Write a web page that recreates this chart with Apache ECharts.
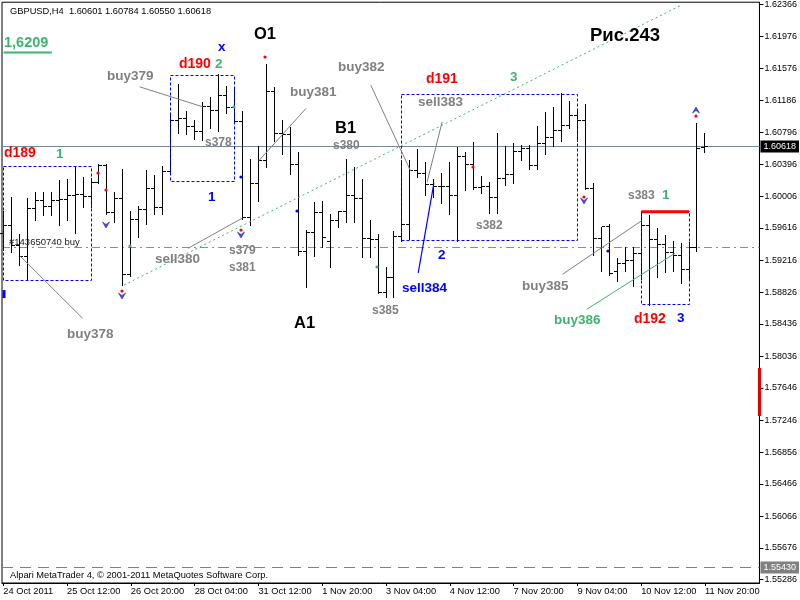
<!DOCTYPE html>
<html><head><meta charset="utf-8">
<script src="https://cdn.jsdelivr.net/npm/echarts@6/dist/echarts.min.js"></script>
<style>html,body{margin:0;padding:0;background:#fff}#c{width:800px;height:600px}</style>
</head><body><div id="c"></div>
<script>
// ---------------- data ----------------
const symbolName = 'GBPUSD,H4';
const opens = [1.5955,1.5965,1.5940,1.5926,1.5985,1.5995,1.5988,1.5995,1.5997,1.6001,
 1.6003,1.6000,1.6018,1.6039,1.5981,1.5998,1.5904,1.5972,1.5984,1.6010,
 1.5987,1.6031,1.6094,1.6096,1.6086,1.6080,1.6111,1.6106,1.6125,1.6110,
 1.6092,1.5974,1.6016,1.6044,1.6129,1.6078,1.6076,1.6040,1.5933,1.5956,
 1.5981,1.5945,1.5971,1.5982,1.6001,1.5998,1.5948,1.5947,1.5882,1.5900,
 1.5951,1.5966,1.6032,1.6028,1.6015,1.6013,1.6012,1.6001,1.6050,1.6040,
 1.6011,1.6013,1.5999,1.6022,1.6027,1.6056,1.6059,1.6038,1.6066,1.6073,
 1.6082,1.6088,1.6100,1.6094,1.6010,1.5948,1.5963,1.5908,1.5918,1.5922,
 1.5930,1.5965,1.5947,1.5941,1.5931,1.5928,1.5911,1.5938,1.60601];
const highs = [1.5983,1.6000,1.5954,1.5998,1.6006,1.6006,1.6006,1.6020,1.6022,1.6037,
 1.6024,1.6023,1.6040,1.6040,1.6006,1.6034,1.5983,1.5988,1.6033,1.6027,
 1.6038,1.6100,1.6139,1.6106,1.6095,1.6116,1.6123,1.6151,1.6136,1.6133,
 1.6106,1.6047,1.6063,1.6163,1.6135,1.6094,1.6086,1.6055,1.5959,1.5993,
 1.5995,1.5979,1.5983,1.6047,1.6036,1.6022,1.5971,1.5954,1.5913,1.5958,
 1.6045,1.6045,1.6059,1.6043,1.6022,1.6029,1.6043,1.6061,1.6055,1.6067,
 1.6025,1.6018,1.6078,1.6062,1.6066,1.6064,1.6064,1.6087,1.6104,1.6111,
 1.6128,1.6118,1.6106,1.6114,1.6017,1.5963,1.5966,1.5924,1.5938,1.5938,
 1.5983,1.5977,1.5961,1.5953,1.5946,1.5943,1.5944,1.6091,1.60784];
const lows = [1.5935,1.5932,1.5916,1.5899,1.5971,1.5977,1.5977,1.5965,1.5971,1.5955,
 1.5987,1.5987,1.6017,1.5979,1.5969,1.5891,1.5903,1.5951,1.5967,1.5979,
 1.5979,1.6030,1.6079,1.6077,1.6071,1.6070,1.6084,1.6081,1.6103,1.6092,
 1.5973,1.5965,1.5995,1.6036,1.6069,1.6053,1.6028,1.5928,1.5889,1.5927,
 1.5938,1.5913,1.5963,1.5969,1.5969,1.5926,1.5926,1.5881,1.5876,1.5876,
 1.5946,1.5948,1.6024,1.6002,1.6000,1.5992,1.5979,1.5945,1.6008,1.6009,
 1.6004,1.5980,1.5980,1.6015,1.6017,1.6045,1.6034,1.6034,1.6053,1.6062,
 1.6068,1.6084,1.6069,1.6010,1.5928,1.5908,1.5904,1.5896,1.5908,1.5890,
 1.5899,1.5867,1.5901,1.5907,1.5909,1.5894,1.5898,1.5933,1.60550];
const closes = [1.5965,1.5940,1.5926,1.5985,1.5995,1.5988,1.5995,1.5997,1.6001,1.6003,
 1.6000,1.6018,1.6038,1.5981,1.5998,1.5904,1.5972,1.5984,1.6010,1.5987,
 1.6031,1.6094,1.6096,1.6086,1.6080,1.6111,1.6106,1.6125,1.6110,1.6092,
 1.5974,1.6016,1.6044,1.6129,1.6078,1.6076,1.6040,1.5933,1.5956,1.5981,
 1.5950,1.5971,1.5982,1.6001,1.5998,1.5948,1.5947,1.5882,1.5900,1.5951,
 1.5966,1.6032,1.6028,1.6015,1.6013,1.6012,1.6001,1.6050,1.6040,1.6011,
 1.6013,1.5999,1.6022,1.6027,1.6056,1.6059,1.6038,1.6066,1.6073,1.6082,
 1.6088,1.6100,1.6094,1.6010,1.5948,1.5963,1.5906,1.5918,1.5922,1.5930,
 1.5965,1.5947,1.5941,1.5931,1.5928,1.5911,1.5938,1.6059,1.60618];

const xTickBars = [0,8,16,24,32,40,48,56,64,72,80,88];
const xTickLabels = ['24 Oct 2011','25 Oct 12:00','26 Oct 20:00','28 Oct 04:00','31 Oct 12:00','1 Nov 20:00',
 '3 Nov 04:00','4 Nov 12:00','7 Nov 20:00','9 Nov 04:00','10 Nov 12:00','11 Nov 20:00'];
const yTickLabels = ['1.62366','1.61976','1.61576','1.61186','1.60796','1.60396','1.60006','1.59616','1.59216',
 '1.58826','1.58436','1.58036','1.57646','1.57246','1.56856','1.56466','1.56066','1.55676','1.55286'];

const bidPrice = 1.60618;
const orderPrice = 1.59380;
const lowLinePrice = 1.55430;
const footerText = 'Alpari MetaTrader 4, \u00a9 2001-2011 MetaQuotes Software Corp.';

// annotations: [text, bar index, price]
const grayLabels = [['buy379',13.0,1.61487],['buy381',36.0,1.61291],['buy382',42.04,1.61598],['sell383',52.04,1.61160],
 ['sell380',19.0,1.59236],['buy378',7.96,1.58305],['buy385',65.0,1.58900]];
const graySmallLabels = [['s378',25.25,1.60663],['s380',41.29,1.60622],['s379',28.29,1.59330],['s381',28.29,1.59125],
 ['s382',59.29,1.59642],['s385',46.29,1.58596],['s383',78.29,1.60007]];
const redLabels = [['d189',0.06,1.60536],['d190',22.0,1.61628],['d191',53.04,1.61447],['d192',79.125,1.58490]];
const greenLabels = [['2',26.5,1.61628],['1',6.625,1.60530],['3',63.59,1.61468],['1',82.66,1.60020],['buy386',69.125,1.58481]];
const blueLabels = [['x',26.9,1.61837],['1',25.625,1.60000],['2',54.5,1.59281],['sell384',50.04,1.58879],['3',84.54,1.58506]];
const bigLabels = [['O1',31.5,1.62009],['B1',41.625,1.60848],['A1',36.5,1.58448]];
const figureLabels = [['Рис.243',73.59,1.61976]];
const levelLabels = [['1,6209',0.125,1.61886]];
const orderLabels = [['#143650740 buy',0.66,1.59445]];

// segments: [bar1, price1, bar2, price2]
const graySegments = [[17.125,1.61352,25.04,1.61106],[37.96,1.61086,32.04,1.60442],[46.09,1.61373,51.09,1.60315],
 [55.04,1.60921,53.16,1.60183],[23.16,1.59364,30.04,1.59740],[9.96,1.58502,2.125,1.59269],[70.16,1.59047,80.04,1.59703]];
const greenSegments = [[73.16,1.58613,84.21,1.59302]];
const blueSegments = [[54.0,1.60163,52.04,1.59063]];
const trendSegments = [[15.125,1.58912,85.0,1.62357]];
const levelUnderlines = [[0.05,1.61775,6.09,1.61775]];
const boxes = [[0,1.60376,11,1.58974],[21,1.61496,29,1.60183],[50,1.61262,72,1.59457],[80,1.59814,86,1.58678]];
const redTopLines = [[80,1.59814,86,1.59814]];

// markers: [bar, price]
const sellArrows = [[13,1.59650],[15,1.58780],[30,1.59527],[73,1.59949]];
const buyArrows = [[87,1.61065]];
const redDots = [[12,1.60287],[13,1.60081],[15,1.58838],[30,1.59589],[33,1.61721],[59,1.60368],[73,1.59999],[87,1.60995]];
const blueDots = [[30,1.60245],[37,1.59823],[76,1.59330]];
const greenDots = [[29,1.61106],[47,1.59129],[16,1.59392]];
const blueTicks = [[0,1.58851,1.58752]];
const axisAlertRanges = [[1.57891,1.57300]];

// ---------------- layout ----------------
const X_MIN = -0.1625, X_MAX = 94.8375;
const Y_MIN = 1.55245, Y_MAX = 1.62394;
const FONT = '"Liberation Sans", Arial, sans-serif';
const crisp = v => Math.round(v - 0.5) + 0.5;

const chart = echarts.init(document.getElementById('c'), null, {renderer: 'canvas'});

const barsData = opens.map((o, i) => [i, o, highs[i], lows[i], closes[i]]);
const last = barsData.length - 1;
const titleText = symbolName + '  ' + [opens[last], highs[last], lows[last], closes[last]].map(v => v.toFixed(5)).join(' ');

function textSeries(rows, font, color, z) {
  return {type: 'custom', coordinateSystem: 'cartesian2d', silent: true, z: z || 6,
    data: rows.map(r => [r[1], r[2]]),
    renderItem(params, api) {
      const p = api.coord([api.value(0), api.value(1)]);
      return {type: 'text', x: Math.round(p[0]), y: Math.round(p[1]),
        style: {text: rows[params.dataIndex][0], fill: color, font: font, align: 'left', verticalAlign: 'middle'}};
    }};
}
function segSeries(rows, style, z) {
  return {type: 'custom', coordinateSystem: 'cartesian2d', silent: true, z: z || 5,
    data: rows.map(r => r.slice()),
    renderItem(params, api) {
      const a = api.coord([api.value(0), api.value(1)]);
      const b = api.coord([api.value(2), api.value(3)]);
      return {type: 'line', shape: {x1: a[0], y1: a[1], x2: b[0], y2: b[1]}, style: Object.assign({fill: null}, style)};
    }};
}
function dotSeries(rows, color, z) {
  return {type: 'custom', coordinateSystem: 'cartesian2d', silent: true, z: z || 7,
    data: rows.map(r => r.slice()),
    renderItem(params, api) {
      const p = api.coord([api.value(0), api.value(1)]);
      return {type: 'circle', shape: {cx: Math.round(p[0]) - 1, cy: Math.round(p[1]), r: 1.6}, style: {fill: color}};
    }};
}
function arrowSeries(rows, dir, z) {
  return {type: 'custom', coordinateSystem: 'cartesian2d', silent: true, z: z || 7,
    data: rows.map(r => r.slice()),
    renderItem(params, api) {
      const p = api.coord([api.value(0), api.value(1)]);
      const cx = Math.round(p[0]) - 1, cy = Math.round(p[1]);
      const s = dir; // 1 = down chevron, -1 = up chevron
      const pts = [[cx - 3.5, cy - 3 * s], [cx, cy - 0.5 * s], [cx + 3.5, cy - 3 * s], [cx, cy + 3 * s]];
      return {type: 'polygon', shape: {points: pts}, style: {fill: '#4a4ae8', stroke: '#2a2aa8', lineWidth: 0.6}};
    }};
}

const hLineStyles = [
  {stroke: '#778899', lineWidth: 1},
  {stroke: '#32cd32', lineWidth: 1, lineDash: [8, 4, 2, 4]},
  {stroke: '#808080', lineWidth: 1, lineDash: [11, 7]}
];
const hLineLabels = [{bg: '#000000'}, null, {bg: '#808080'}];
const hLinePrices = [bidPrice, orderPrice, lowLinePrice];

const option = {
  animation: false,
  backgroundColor: '#ffffff',
  title: [
    {text: titleText, left: 5, top: 2, textStyle: {fontSize: 9.3, fontWeight: 'normal', color: '#000', fontFamily: FONT}},
    {text: footerText, left: 5, top: 566, textStyle: {fontSize: 9.3, fontWeight: 'normal', color: '#000', fontFamily: FONT}}
  ],
  grid: {left: 2, top: 2, right: 38, bottom: 17, show: true, borderColor: '#000', borderWidth: 1, backgroundColor: '#fff'},
  xAxis: {type: 'value', min: X_MIN, max: X_MAX, position: 'bottom',
    axisLine: {show: true, onZero: false, lineStyle: {color: '#000', width: 1}},
    axisTick: {show: true, customValues: xTickBars, length: 3, lineStyle: {color: '#000'}},
    axisLabel: {show: true, customValues: xTickBars, align: 'left', margin: 4, color: '#000', fontSize: 9.3, fontFamily: FONT,
      formatter: v => { const k = xTickBars.indexOf(Math.round(v)); return k >= 0 ? xTickLabels[k] : ''; }},
    splitLine: {show: false}},
  yAxis: {type: 'value', min: Y_MIN, max: Y_MAX, position: 'right', scale: true,
    axisLine: {show: true, onZero: false, lineStyle: {color: '#000', width: 1}},
    axisTick: {show: true, customValues: yTickLabels.map(Number), length: 4, lineStyle: {color: '#000'}},
    axisLabel: {show: true, customValues: yTickLabels.map(Number), margin: 5, color: '#000', fontSize: 9, fontFamily: FONT,
      formatter: v => v.toFixed(5)},
    splitLine: {show: false}},
  series: [
    // horizontal level lines
    {type: 'custom', coordinateSystem: 'cartesian2d', silent: true, z: 1,
      data: hLinePrices.map(p => [0, p]),
      renderItem(params, api) {
        const cs = params.coordSys;
        const y = crisp(api.coord([0, api.value(1)])[1]);
        const children = [{type: 'line', shape: {x1: cs.x, y1: y, x2: cs.x + cs.width, y2: y}, style: hLineStyles[params.dataIndex]}];
        const lab = hLineLabels[params.dataIndex];
        if (lab) {
          children.push({type: 'text', x: cs.x + cs.width + 1, y: y,
            style: {text: api.value(1).toFixed(5), fill: '#fff', backgroundColor: lab.bg, padding: [2, 3, 1, 3],
              font: '9px ' + FONT, align: 'left', verticalAlign: 'middle'}});
        }
        return {type: 'group', children};
      }},
    // OHLC bars
    {type: 'custom', coordinateSystem: 'cartesian2d', silent: true, z: 3,
      data: barsData,
      renderItem(params, api) {
        const i = api.value(0);
        const h = api.coord([i, api.value(2)]), l = api.coord([i, api.value(3)]);
        const o = api.coord([i, api.value(1)]), c = api.coord([i, api.value(4)]);
        const x = crisp(h[0]);
        const st = {stroke: '#000', lineWidth: 1};
        const yo = crisp(o[1]), yc = crisp(c[1]);
        return {type: 'group', children: [
          {type: 'line', shape: {x1: x, y1: Math.round(h[1]), x2: x, y2: Math.round(l[1]) + 1}, style: st},
          {type: 'line', shape: {x1: x - 3.5, y1: yo, x2: x - 0.5, y2: yo}, style: st},
          {type: 'line', shape: {x1: x + 0.5, y1: yc, x2: x + 3.5, y2: yc}, style: st}
        ]};
      }},
    // dashed boxes
    {type: 'custom', coordinateSystem: 'cartesian2d', silent: true, z: 4,
      data: boxes.map(r => r.slice()),
      renderItem(params, api) {
        const a = api.coord([api.value(0), api.value(1)]);
        const b = api.coord([api.value(2), api.value(3)]);
        const x1 = crisp(Math.min(a[0], b[0])), x2 = crisp(Math.max(a[0], b[0]));
        const y1 = crisp(Math.min(a[1], b[1])), y2 = crisp(Math.max(a[1], b[1]));
        return {type: 'rect', shape: {x: x1, y: y1, width: x2 - x1, height: y2 - y1},
          style: {fill: null, stroke: '#0000ff', lineWidth: 1, lineDash: [3, 2]}};
      }},
    segSeries(redTopLines, {stroke: '#ff0000', lineWidth: 3}, 5),
    segSeries(trendSegments, {stroke: '#3cb371', lineWidth: 1, lineDash: [2, 3]}, 5),
    segSeries(graySegments, {stroke: '#808080', lineWidth: 1}, 5),
    segSeries(greenSegments, {stroke: '#3cb371', lineWidth: 1}, 5),
    segSeries(blueSegments, {stroke: '#0000ff', lineWidth: 1.2}, 5),
    segSeries(levelUnderlines, {stroke: '#3cb371', lineWidth: 2}, 5),
    // short blue vertical mark at the left edge
    {type: 'custom', coordinateSystem: 'cartesian2d', silent: true, z: 6,
      data: blueTicks.map(r => r.slice()),
      renderItem(params, api) {
        const a = api.coord([api.value(0), api.value(1)]), b = api.coord([api.value(0), api.value(2)]);
        return {type: 'line', shape: {x1: Math.round(a[0]) + 1, y1: a[1], x2: Math.round(a[0]) + 1, y2: b[1]}, style: {stroke: '#0000ff', lineWidth: 3}};
      }},
    // red mark on price axis
    {type: 'custom', coordinateSystem: 'cartesian2d', silent: true, z: 8,
      data: axisAlertRanges.map(r => [0, r[0], r[1]]),
      renderItem(params, api) {
        const cs = params.coordSys;
        const a = api.coord([0, api.value(1)]), b = api.coord([0, api.value(2)]);
        return {type: 'line', shape: {x1: cs.x + cs.width, y1: a[1], x2: cs.x + cs.width, y2: b[1]}, style: {stroke: '#e00000', lineWidth: 3}};
      }},
    arrowSeries(sellArrows, 1, 7),
    arrowSeries(buyArrows, -1, 7),
    dotSeries(redDots, '#ff0000', 8),
    dotSeries(blueDots, '#0000ff', 8),
    dotSeries(greenDots, '#3cb371', 8),
    textSeries(grayLabels, 'bold 13.5px ' + FONT, '#808080'),
    textSeries(graySmallLabels, 'bold 12px ' + FONT, '#808080'),
    textSeries(redLabels, 'bold 14px ' + FONT, '#ff0000'),
    textSeries(greenLabels, 'bold 13.5px ' + FONT, '#3cb371'),
    textSeries(blueLabels, 'bold 13.5px ' + FONT, '#0000ff'),
    textSeries(bigLabels, 'bold 16.5px ' + FONT, '#000000'),
    textSeries(figureLabels, 'bold 18.5px ' + FONT, '#000000'),
    textSeries(levelLabels, 'bold 14.5px ' + FONT, '#3cb371'),
    textSeries(orderLabels, '9.5px ' + FONT, '#202020')
  ]
};
chart.setOption(option);
</script>
</body></html>
